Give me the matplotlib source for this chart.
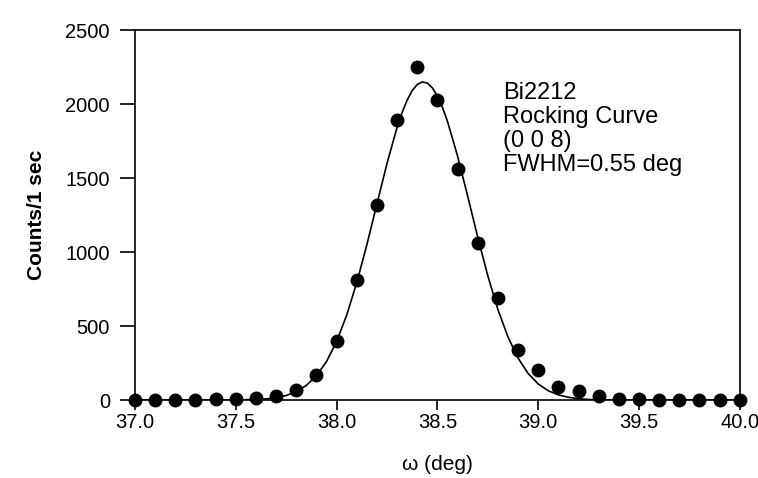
import matplotlib.pyplot as plt

# measured points (omega in deg, counts per second)
omega = [37.0, 37.1, 37.2, 37.3, 37.4, 37.5, 37.6, 37.7, 37.8, 37.9,
         38.0, 38.1, 38.2, 38.3, 38.4, 38.5, 38.6, 38.7, 38.8, 38.9,
         39.0, 39.1, 39.2, 39.3, 39.4, 39.5, 39.6, 39.7, 39.8, 39.9, 40.0]
counts = [0, 0, 0, 0, 8, 8, 12, 30, 70, 170,
          400, 810, 1320, 1890, 2250, 2030, 1560, 1060, 690, 340,
          200, 90, 60, 25, 10, 5, 0, 0, 0, 0, 0]

# fitted curve
fit_x = [37.0, 37.5, 37.6, 37.65, 37.7, 37.75, 37.8, 37.85, 37.9, 37.95,
         38.0, 38.05, 38.1, 38.15, 38.2, 38.25, 38.3, 38.325, 38.35, 38.375,
         38.4, 38.425, 38.45, 38.475, 38.5, 38.525, 38.55, 38.6, 38.65, 38.7,
         38.75, 38.8, 38.85, 38.9, 38.95, 39.0, 39.05, 39.1, 39.15, 39.2,
         39.25, 39.3, 39.4, 40.0]
fit_y = [0, 1, 4, 8, 16, 31, 57, 99, 164, 260,
         395, 573, 793, 1048, 1324, 1598, 1842, 1943, 2027, 2091,
         2132, 2150, 2142, 2110, 2056, 1979, 1884, 1650, 1380, 1102,
         841, 613, 427, 284, 180, 109, 63, 35, 19, 9,
         4, 2, 0, 0]

xticks = [37.0, 37.5, 38.0, 38.5, 39.0, 39.5, 40.0]
yticks = [0, 500, 1000, 1500, 2000, 2500]

plt.rcParams['font.family'] = ['Liberation Sans', 'DejaVu Sans']

fig = plt.figure(figsize=(7.58, 4.78), dpi=100)
ax = fig.add_axes([0.178, 0.163, 0.798, 0.774])

ax.plot(fit_x, fit_y, color='black', lw=1.2, zorder=2)
ax.plot(omega, counts, 'o', color='black', ms=9, zorder=3, clip_on=False)

ax.set_xlim(37.0, 40.0)
ax.set_ylim(0, 2500)
ax.set_xticks(xticks)
ax.set_xticklabels([f"{t:.1f}" for t in xticks])
ax.set_yticks(yticks)
ax.tick_params(direction='out', width=1.2, labelsize=14.5)
ax.tick_params(axis='x', length=7, pad=2)
ax.tick_params(axis='y', length=11, pad=7)
for s in ax.spines.values():
    s.set_linewidth(1.2)

ax.set_xlabel("ω (deg)", fontsize=15, labelpad=17)
ax.set_ylabel("Counts/1 sec", fontsize=15, fontweight='bold', labelpad=14)

ax.text(0.608, 0.86, "Bi2212\nRocking Curve\n(0 0 8)\nFWHM=0.55 deg",
        transform=ax.transAxes, fontsize=17, va='top', ha='left',
        linespacing=1.12)

fig.savefig("out.png", dpi=100)
